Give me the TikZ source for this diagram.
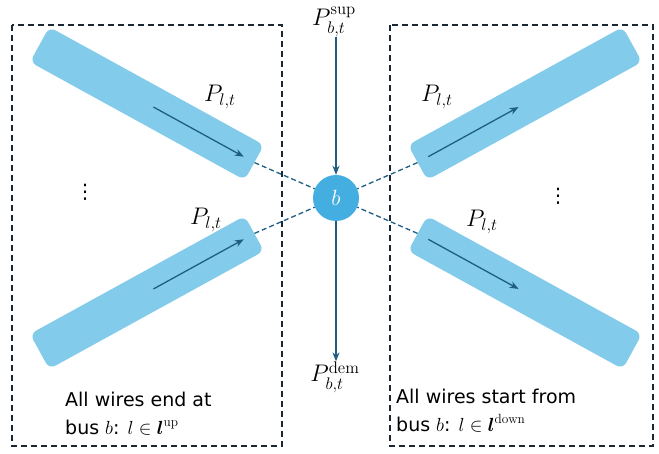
\RequirePackage{fix-cm}
\documentclass[tikz,border=0pt]{standalone}
\usepackage{amsmath}
\usepackage{fontspec}
\newfontfamily\tfont{DejaVu Sans}
\usetikzlibrary{arrows.meta,calc}
\definecolor{wire}{RGB}{131,203,235}
\definecolor{busc}{RGB}{69,174,224}
\definecolor{arr}{RGB}{30,94,128}
\definecolor{boxc}{RGB}{27,40,52}
\tikzset{
  wirebox/.style={fill=wire, rounded corners=7pt, minimum width=245pt, minimum height=40pt, inner sep=0pt},
  flow/.style={arr, line width=1.3pt, -{Stealth[length=9pt,width=7pt]}},
  link/.style={arr, line width=1.3pt, dash pattern=on 5pt off 3pt},
  groupbox/.style={boxc, line width=1.3pt, dash pattern=on 6pt off 4pt},
  lab/.style={font=\fontsize{20}{24}\selectfont, inner sep=0pt, scale=1.2, transform shape},
  dotlab/.style={font=\tfont\fontsize{20}{22}\selectfont, inner sep=0pt},
  desc/.style={font=\tfont\fontsize{19}{28}\selectfont, align=left, anchor=west, inner sep=0pt},
}
\begin{document}
\begin{tikzpicture}[x=1pt,y=-1pt]
\useasboundingbox (0,0) rectangle (659,454);
% group boxes
\draw[groupbox] (12,25) rectangle (282,446);
\draw[groupbox] (390,25) rectangle (653,446);
% bus
\node[circle, fill=busc, minimum size=46pt, inner sep=0pt, text=white, font=\fontsize{20}{24}\selectfont] (b) at (336,198) {\scalebox{1.1}{$b$}};
% wires
\node[wirebox, rotate=-28.8] (ul) at (147,103.5) {};
\node[wirebox, rotate=28.8] (ll) at (147,292.5) {};
\node[wirebox, rotate=208.8] (ur) at (525,103.5) {};
\node[wirebox, rotate=151.2] (lr) at (525,292.5) {};
% dashed links
\draw[link] (ul.east) -- (b);
\draw[link] (ll.east) -- (b);
\draw[link] (ur.east) -- (b);
\draw[link] (lr.east) -- (b);
% flows inside wires
\draw[flow] ($(ul.west)!0.53!(ul.east)$) -- ($(ul.west)!0.95!(ul.east)$);
\draw[flow] ($(ll.west)!0.53!(ll.east)$) -- ($(ll.west)!0.95!(ll.east)$);
\draw[flow] ($(ur.west)!0.95!(ur.east)$) -- ($(ur.west)!0.53!(ur.east)$);
\draw[flow] ($(lr.west)!0.95!(lr.east)$) -- ($(lr.west)!0.53!(lr.east)$);
% labels
\node[lab] (pul) at (220,97) {$P_{l,t}$};
\node[lab] (pll) at (206,220) {$P_{l,t}$};
\node[lab] (pur) at (437,97) {$P_{l,t}$};
\node[lab] (plr) at (482,222) {$P_{l,t}$};
\node[dotlab] (dl) at (85,192) {⋮};
\node[dotlab] (dr) at (558,196) {⋮};
% supply/demand
\node[lab, anchor=base] (sup) at (334,26) {$P_{b,t}^{\mathrm{sup}}$};
\node[lab, anchor=base] (dem) at (335,382) {$P_{b,t}^{\mathrm{dem}}$};
\draw[flow] (b.north |- sup.south) -- (b.north);
\draw[flow] (b.south) -- (b.south |- dem.north);
% descriptions
\node[desc] (tl) at (65,414) {All wires end at\\bus $b$: $l\in\boldsymbol{l}^{\mathrm{up}}$};
\node[desc] (tr) at (396,411) {All wires start from\\bus $b$: $l\in\boldsymbol{l}^{\mathrm{down}}$};
\end{tikzpicture}
\end{document}
